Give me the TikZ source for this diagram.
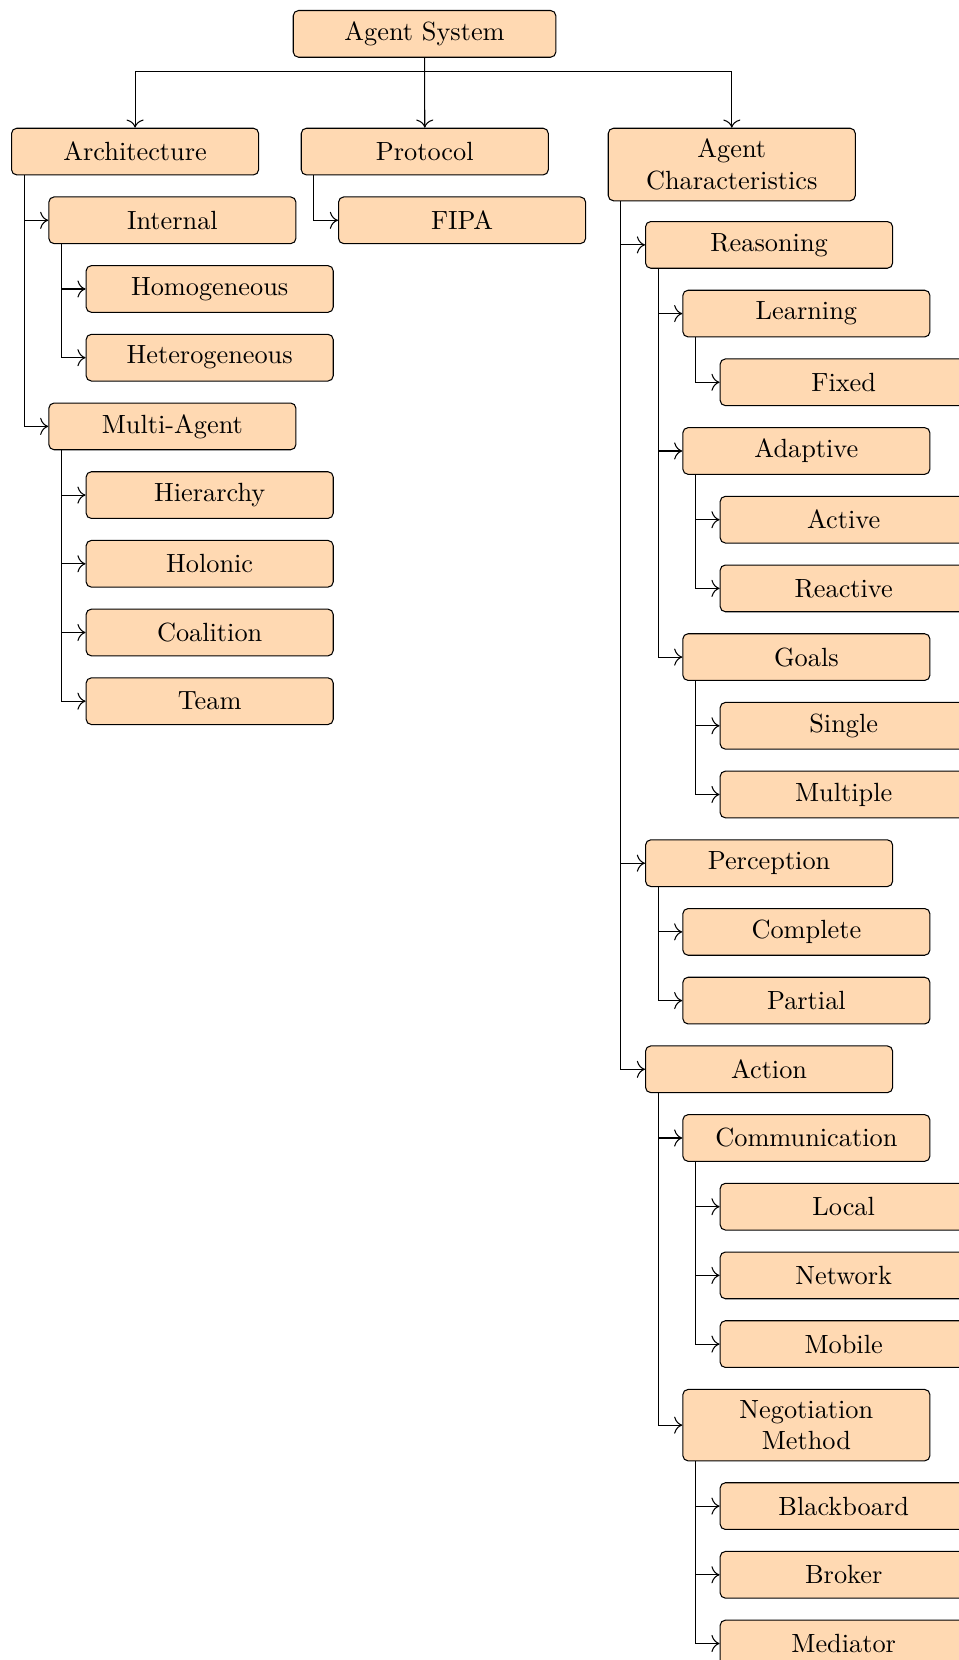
\documentclass[tikz,border=0pt]{standalone}
\usepackage{tikz}
\usetikzlibrary{arrows.meta}
\tikzset{
  catbox/.style={draw, fill=orange!30, rounded corners=2pt, anchor=north west,
    text width=85.9pt, align=center, inner xsep=4pt, inner ysep=4.1pt,
    minimum height=17.75pt},
  rootbox/.style={catbox, text width=91.8pt},
  link/.style={-{To[scale=1.25]}},
}
\newcommand{\catnode}[4]{\node[catbox] (#1) at (#2,#3) {#4};}
\newcommand{\sublink}[2]{\draw[link] ([xshift=5pt]#1.south west) |- (#2.west);}

\begin{document}
\begin{tikzpicture}[x=0.38pt,y=-0.38pt]
        \useasboundingbox (0,0) rectangle (959,1660);
        \clip (0,0) rectangle (959,1660);
        % root
        \node[rootbox] (sys) at (292.7,10) {Agent System};
        % level1
        \catnode{arch}{11}{127.7}{Architecture}
        \catnode{prot}{300.7}{127.7}{Protocol}
        \catnode{char}{607.7}{127.7}{Agent\\Characteristics}
        % architecture
        \catnode{intl}{48.3}{196.4}{Internal}
        \catnode{homo}{85.6}{265.1}{Homogeneous}
        \catnode{hete}{85.6}{333.8}{Heterogeneous}
        \catnode{mult}{48.3}{402.5}{Multi-Agent}
        \catnode{hier}{85.6}{471.2}{Hierarchy}
        \catnode{holo}{85.6}{539.9}{Holonic}
        \catnode{coal}{85.6}{608.6}{Coalition}
        \catnode{team}{85.6}{677.3}{Team}
        % protocol
        \catnode{fipa}{338}{196.4}{FIPA}
        % agent characteristics
        \catnode{reas}{645}{221}{Reasoning}
        \catnode{lear}{682.3}{289.7}{Learning}
        \catnode{fixd}{719.6}{358.4}{Fixed}
        \catnode{adap}{682.3}{427.1}{Adaptive}
        \catnode{actv}{719.6}{495.8}{Active}
        \catnode{reac}{719.6}{564.5}{Reactive}
        \catnode{goal}{682.3}{633.2}{Goals}
        \catnode{sing}{719.6}{701.9}{Single}
        \catnode{mltp}{719.6}{770.6}{Multiple}
        \catnode{perc}{645}{839.3}{Perception}
        \catnode{comp}{682.3}{908}{Complete}
        \catnode{part}{682.3}{976.7}{Partial}
        \catnode{actn}{645}{1045.4}{Action}
        \catnode{comm}{682.3}{1114.1}{Communication}
        \catnode{locl}{719.6}{1182.8}{Local}
        \catnode{netw}{719.6}{1251.5}{Network}
        \catnode{mobl}{719.6}{1320.2}{Mobile}
        \catnode{nego}{682.3}{1388.9}{Negotiation\\Method}
        \catnode{blck}{719.6}{1482.2}{Blackboard}
        \catnode{brok}{719.6}{1550.9}{Broker}
        \catnode{medi}{719.6}{1619.6}{Mediator}

        % edges from root
        \draw[link] (sys.south) -- ++(0,-5.2pt) -| (arch.north);
        \draw[link] (sys.south) -- (prot.north);
        \draw[link] (sys.south) -- ++(0,-5.2pt) -| (char.north);
        % edges architecture
        \sublink{arch}{intl}
        \sublink{arch}{mult}
        \sublink{intl}{homo}
        \sublink{intl}{hete}
        \sublink{mult}{hier}
        \sublink{mult}{holo}
        \sublink{mult}{coal}
        \sublink{mult}{team}
        % edges protocol
        \sublink{prot}{fipa}
        % edges agent characteristics
        \sublink{char}{reas}
        \sublink{char}{perc}
        \sublink{char}{actn}
        \sublink{reas}{lear}
        \sublink{reas}{adap}
        \sublink{reas}{goal}
        \sublink{lear}{fixd}
        \sublink{adap}{actv}
        \sublink{adap}{reac}
        \sublink{goal}{sing}
        \sublink{goal}{mltp}
        \sublink{perc}{comp}
        \sublink{perc}{part}
        \sublink{actn}{comm}
        \sublink{actn}{nego}
        \sublink{comm}{locl}
        \sublink{comm}{netw}
        \sublink{comm}{mobl}
        \sublink{nego}{blck}
        \sublink{nego}{brok}
        \sublink{nego}{medi}
\end{tikzpicture}
\end{document}
